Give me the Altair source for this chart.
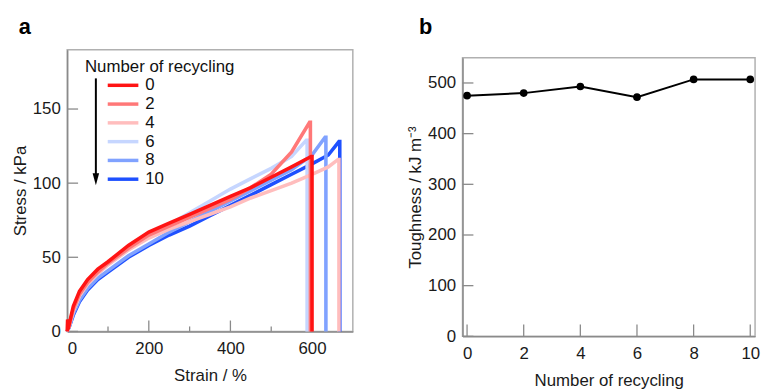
import altair as alt
import pandas as pd

FONT = "Liberation Sans"
FS = 17

# ---------------- data ----------------
series_labels = ["0", "2", "4", "6", "8", "10"]
series_colors = ["#ff1414", "#ff7878", "#ffbdbd", "#c6d6ff", "#80a2ff", "#1e50ff"]

strain_0 = [0, 1, 5, 15, 30, 50, 75, 100, 150, 200, 250, 300, 350, 400, 450, 500, 550, 598, 600, 600]
stress_0 = [0, 8, 5, 17, 27, 35, 42, 47, 58, 67, 73, 79, 85, 91, 97, 104, 111, 118, 118, 0]

strain_2 = [0, 5, 15, 30, 50, 75, 100, 150, 200, 250, 300, 350, 400, 450, 500, 550, 594, 596, 596]
stress_2 = [0, 4, 15, 25, 33, 40, 46, 56, 65, 71, 77, 83, 89, 97, 106, 121, 141, 141, 0]

strain_4 = [0, 5, 15, 30, 50, 75, 100, 150, 200, 250, 300, 350, 400, 450, 500, 550, 600, 640, 664, 666, 666]
stress_4 = [0, 4, 14, 24, 32, 39, 45, 55, 63, 69, 74, 79, 84, 90, 95, 100, 106, 111, 116, 116, 0]

strain_6 = [0, 5, 15, 30, 50, 75, 100, 150, 200, 250, 300, 350, 400, 450, 500, 550, 586, 588, 588]
stress_6 = [0, 4, 14, 24, 32, 39, 45, 55, 64, 72, 80, 88, 96, 103, 110, 118, 129, 129, 0]

strain_8 = [0, 5, 15, 30, 50, 75, 100, 150, 200, 250, 300, 350, 400, 450, 500, 550, 600, 632, 634, 634]
stress_8 = [0, 3, 12, 21, 29, 36, 41, 51, 59, 67, 74, 81, 88, 95, 102, 109, 119, 131, 131, 0]

strain_10 = [0, 5, 15, 30, 50, 75, 100, 150, 200, 250, 300, 350, 400, 450, 500, 550, 600, 640, 666, 668, 668]
stress_10 = [0, 3, 11, 20, 28, 35, 40, 50, 58, 65, 71, 78, 85, 92, 99, 106, 113, 119, 128, 128, 0]

strain_list = [strain_0, strain_2, strain_4, strain_6, strain_8, strain_10]
stress_list = [stress_0, stress_2, stress_4, stress_6, stress_8, stress_10]

recycling = [0, 2, 4, 6, 8, 10]
toughness = [475, 480, 493, 472, 507, 507]

a_x_major = [0, 200, 400, 600]
a_x_minor = [100, 300, 500]
a_y_major = [0, 50, 100, 150]
b_x_ticks = [0, 2, 4, 6, 8, 10]
b_y_ticks = [0, 100, 200, 300, 400, 500]

# ---------------- tables ----------------
rows = []
# draw series 10 first so series 0 ends on top
for lab, sx, sy in reversed(list(zip(series_labels, strain_list, stress_list))):
    for i, (x, y) in enumerate(zip(sx, sy)):
        rows.append({"series": lab, "strain": x, "stress": y, "i": i})
curve_df = pd.DataFrame(rows)
toughness_df = pd.DataFrame({"recycling": recycling, "toughness": toughness})

AXIS_GRAY = "#8a8a8a"

# ---------------- panel a ----------------
W_A, H_A = 289, 285
xs_a = alt.Scale(domain=[0, 700], nice=False, zero=False)
ys_a = alt.Scale(domain=[0, 190], nice=False)
color_scale = alt.Scale(domain=series_labels, range=series_colors)
XT_A = "Strain / %"
YT_A = "Stress / kPa"

xa_major = alt.Chart(pd.DataFrame({"v": a_x_major})).mark_rule(color=AXIS_GRAY, strokeWidth=1.3).encode(
    x=alt.X("v:Q", scale=xs_a, title=XT_A), y=alt.value(H_A), y2=alt.value(H_A - 11))
xa_minor = alt.Chart(pd.DataFrame({"v": a_x_minor})).mark_rule(color=AXIS_GRAY, strokeWidth=1.3).encode(
    x=alt.X("v:Q", scale=xs_a, title=XT_A), y=alt.value(H_A), y2=alt.value(H_A - 5))
ya_major = alt.Chart(pd.DataFrame({"v": a_y_major})).mark_rule(color=AXIS_GRAY, strokeWidth=1.3).encode(
    y=alt.Y("v:Q", scale=ys_a, title=YT_A), x=alt.value(0), x2=alt.value(11))

curves = alt.Chart(curve_df).mark_line(strokeWidth=3.6, strokeJoin="miter", clip=False).encode(
    x=alt.X("strain:Q", scale=xs_a, title=XT_A, axis=alt.Axis(values=a_x_major)),
    y=alt.Y("stress:Q", scale=ys_a, title=YT_A, axis=alt.Axis(values=a_y_major)),
    color=alt.Color("series:N", scale=color_scale, legend=None, sort=series_labels[::-1]),
    order=alt.Order("i:Q"),
)

inner_a = alt.layer(xa_major, xa_minor, ya_major, curves)

leg_df = pd.DataFrame({"series": series_labels})
leg_y = alt.Y("series:N", scale=alt.Scale(type="point", domain=series_labels, range=[36, 131], padding=0), axis=None)
leg_lines = alt.Chart(leg_df).mark_rule(strokeWidth=3.5).encode(
    x=alt.value(41), x2=alt.value(72), y=leg_y,
    color=alt.Color("series:N", scale=color_scale, legend=None))
leg_text = alt.Chart(leg_df).mark_text(align="left", baseline="middle", fontSize=FS, font=FONT, color="#111").encode(
    x=alt.value(79), y=leg_y, text="series:N")
leg_title = alt.Chart(pd.DataFrame({"t": ["Number of recycling"]})).mark_text(
    align="left", baseline="middle", fontSize=FS, font=FONT, color="#111").encode(
    x=alt.value(18), y=alt.value(18), text="t:N")
arrow_shaft = alt.Chart(pd.DataFrame({"t": [0]})).mark_rule(color="black", strokeWidth=2).encode(
    x=alt.value(29), y=alt.value(29), y2=alt.value(128))
arrow_head = alt.Chart(pd.DataFrame({"t": [0]})).mark_point(
    shape="M-0.55,-1L0.55,-1L0,1Z", filled=True, color="black", opacity=1, size=144).encode(
    x=alt.value(29), y=alt.value(131))

legend_layer = alt.layer(leg_lines, leg_text, leg_title, arrow_shaft, arrow_head)

panel_a = alt.layer(inner_a, legend_layer).resolve_scale(y="independent").properties(
    width=W_A, height=H_A,
    title=alt.TitleParams("a", anchor="start", frame="group", dx=-49, offset=-6, baseline="alphabetic",
                          fontSize=22, fontWeight="bold", font=FONT, color="black"))

# ---------------- panel b ----------------
W_B, H_B = 296, 282
xs_b = alt.Scale(domain=[-0.16, 10.17], nice=False, zero=False)
ys_b = alt.Scale(domain=[0, 550], nice=False)
XT_B = "Number of recycling"
YT_B = "Toughness / kJ m\u207b\u00b3"

xb_ticks = alt.Chart(pd.DataFrame({"v": b_x_ticks})).mark_rule(color=AXIS_GRAY, strokeWidth=1.3).encode(
    x=alt.X("v:Q", scale=xs_b, title=XT_B), y=alt.value(H_B), y2=alt.value(H_B - 12))
yb_ticks = alt.Chart(pd.DataFrame({"v": b_y_ticks})).mark_rule(color=AXIS_GRAY, strokeWidth=1.3).encode(
    y=alt.Y("v:Q", scale=ys_b, title=YT_B), x=alt.value(0), x2=alt.value(11))
line_b = alt.Chart(toughness_df).mark_line(color="black", strokeWidth=2).encode(
    x=alt.X("recycling:Q", scale=xs_b, title=XT_B, axis=alt.Axis(values=b_x_ticks)),
    y=alt.Y("toughness:Q", scale=ys_b, title=YT_B, axis=alt.Axis(values=b_y_ticks)))
pts_b = alt.Chart(toughness_df).mark_circle(color="black", size=60, opacity=1).encode(
    x=alt.X("recycling:Q", scale=xs_b, title=XT_B),
    y=alt.Y("toughness:Q", scale=ys_b, title=YT_B))

panel_b = alt.layer(xb_ticks, yb_ticks, line_b, pts_b).properties(width=W_B, height=H_B)

spacer = alt.Chart(pd.DataFrame({"t": [0]})).mark_point(opacity=0, size=1).encode(
    x=alt.value(2), y=alt.value(3)).properties(
    width=W_B, height=7, view=alt.ViewBackground(stroke="transparent", strokeWidth=0),
    title=alt.TitleParams("b", anchor="start", frame="group", dx=-44, offset=-6, baseline="alphabetic",
                          fontSize=22, fontWeight="bold", font=FONT, color="black"))

right = alt.vconcat(spacer, panel_b, spacing=0)

chart = alt.hconcat(panel_a, right, spacing=52).properties(
    padding={"left": 10, "top": 13, "right": 0, "bottom": 0}, background="white"
).configure_view(stroke="#b0b0b0", strokeWidth=1.5).configure_axis(
    labelFont=FONT, titleFont=FONT, labelFontSize=FS, titleFontSize=FS, titleFontWeight="normal",
    labelColor="#1a1a1a", titleColor="#1a1a1a", ticks=False, grid=False,
    domainColor=AXIS_GRAY, domainWidth=1.5, labelPadding=7
).configure_axisX(titlePadding=12, labelPadding=9).configure_axisY(titlePadding=3)

chart.save("out.html", embed_options={"renderer": "svg", "actions": False})
